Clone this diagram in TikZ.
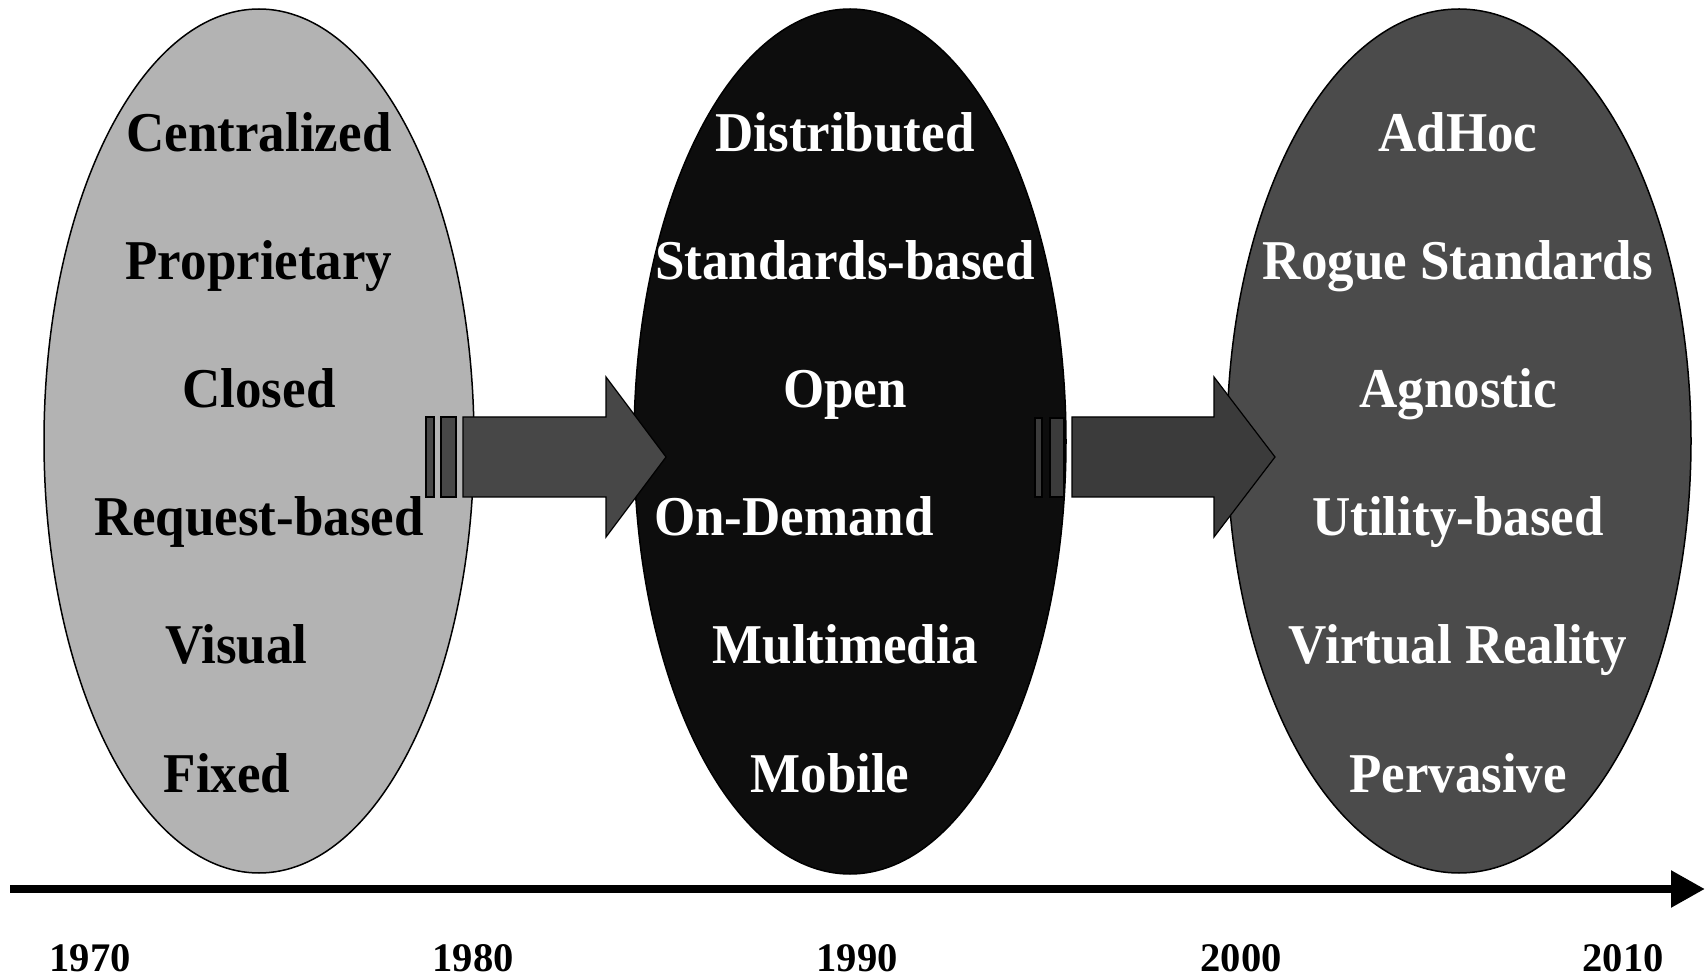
\documentclass[tikz,border=0pt]{standalone}
\usepackage{fontspec}
\setmainfont{Liberation Serif}
\usetikzlibrary{shapes.geometric,arrows.meta}
\definecolor{eOne}{HTML}{B3B3B3}
\definecolor{eTwo}{HTML}{0D0D0D}
\definecolor{eThree}{HTML}{4B4B4B}
\definecolor{arOne}{HTML}{474747}
\definecolor{arTwo}{HTML}{3B3B3B}
\tikzset{
  era/.style={ellipse, draw=black, line width=0.75pt, inner sep=0pt},
  lbl/.style={anchor=base, inner sep=0pt, font=\fontsize{26.5}{30}\selectfont\bfseries},
  yr/.style={anchor=base, inner sep=0pt, font=\fontsize{20.3}{24}\selectfont\bfseries},
  blk/.style={draw=black, line width=0.6pt},
}
\newcommand{\vs}[1]{\scalebox{1}[1.06]{#1}}
\begin{document}
\begin{tikzpicture}[x=0.5pt,y=-0.5pt]
\useasboundingbox (0,0) rectangle (1705,978);
% ellipses
\node[era, fill=eOne, minimum width=215pt, minimum height=432pt] (e1) at (259,441) {};
\node[era, fill=eTwo, minimum width=216pt, minimum height=432.5pt] (e2) at (850,441.5) {};
\node[era, fill=eThree, minimum width=232pt, minimum height=432pt] (e3) at (1459,441) {};
% texts ellipse 1
\node[lbl] (t11) at (259,152) {\vs{Centralized}};
\node[lbl] (t12) at (259,280) {\vs{Proprietary}};
\node[lbl] (t13) at (259,408) {\vs{Closed}};
\node[lbl] (t14) at (259,536) {\vs{Request-based}};
\node[lbl] (t15) at (236.5,664) {\vs{Visual}};
\node[lbl] (t16) at (227,792) {\vs{Fixed}};
% texts ellipse 2
\begin{scope}[every node/.append style={text=white}]
\node[lbl] (t21) at (845,152) {\vs{Distributed}};
\node[lbl] (t22) at (845,280) {\vs{Standards-based}};
\node[lbl] (t23) at (845,408) {\vs{Open}};
\node[lbl] (t24) at (794,536) {\vs{On-Demand}};
\node[lbl] (t25) at (845,664) {\vs{Multimedia}};
\node[lbl] (t26) at (830,792) {\vs{Mobile}};
% texts ellipse 3
\node[lbl] (t31) at (1458,152) {\vs{AdHoc}};
\node[lbl] (t32) at (1458,280) {\vs{Rogue Standards}};
\node[lbl] (t33) at (1458,408) {\vs{Agnostic}};
\node[lbl] (t34) at (1458,536) {\vs{Utility-based}};
\node[lbl] (t35) at (1458,664) {\vs{Virtual Reality}};
\node[lbl] (t36) at (1458,792) {\vs{Pervasive}};
\end{scope}
% block arrow 1
\draw[blk, fill=arOne] (426,417) rectangle (434,497);
\draw[blk, fill=arOne] (441,417) rectangle (456,497);
\draw[blk, fill=arOne] (463,417) -- (606,417) -- (606,377) -- (666,457) -- (606,537) -- (606,497) -- (463,497) -- cycle;
% block arrow 2
\draw[blk, fill=arTwo] (1035,418) rectangle (1042,497);
\draw[blk, fill=arTwo] (1050,418) rectangle (1064,497);
\draw[blk, fill=arTwo] (1072,417) -- (1214,417) -- (1214,377) -- (1275,457) -- (1214,537) -- (1214,497) -- (1072,497) -- cycle;
% time axis
\coordinate (axS) at (10,889);
\coordinate (axE) at (1705,889);
\draw[line width=4.2pt, -{Triangle[length=17pt,width=17.5pt]}] (axS) -- (axE);
% years
\node[yr] (y1) at (90,971) {1970};
\node[yr] (y2) at (473,971) {1980};
\node[yr] (y3) at (857,971) {1990};
\node[yr] (y4) at (1241,971) {2000};
\node[yr] (y5) at (1623,971) {2010};
\end{tikzpicture}
\end{document}
